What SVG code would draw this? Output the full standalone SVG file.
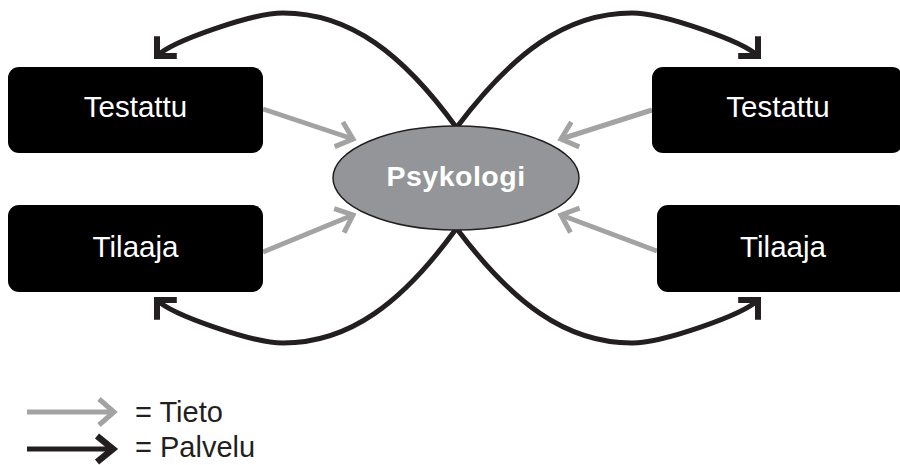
<svg xmlns="http://www.w3.org/2000/svg" width="900" height="465" viewBox="0 0 900 465">
  <style>
    .box { fill: #000000; }
    .lbl { font-family: "Liberation Sans", Arial, sans-serif; font-size: 29.5px; fill: #ffffff; text-anchor: middle; }
    .center { font-family: "Liberation Sans", Arial, sans-serif; font-size: 28.5px; font-weight: bold; letter-spacing: 0.5px; fill: #ffffff; text-anchor: middle; }
    .legend { font-family: "Liberation Sans", Arial, sans-serif; font-size: 29px; fill: #231f20; }
    .info { fill: none; stroke: #a3a3a3; stroke-width: 5; }
    .service { fill: none; stroke: #231f20; stroke-width: 5; }
  </style>
  <defs>
    <marker id="chevGray" markerUnits="userSpaceOnUse" viewBox="-30 -30 60 60" markerWidth="60" markerHeight="60" refX="0" refY="0" orient="auto">
      <path d="M-15,-13 L0,0 L-15,13" fill="none" stroke="#a3a3a3" stroke-width="5" stroke-linejoin="miter"/>
    </marker>
    <marker id="chevBlack" markerUnits="userSpaceOnUse" viewBox="-30 -30 60 60" markerWidth="60" markerHeight="60" refX="0" refY="0" orient="auto">
      <path d="M-14,-14 L0,0 L-14,14" fill="none" stroke="#231f20" stroke-width="6" stroke-linejoin="miter"/>
    </marker>
    <marker id="chevBlackL" markerUnits="userSpaceOnUse" viewBox="-30 -30 60 60" markerWidth="60" markerHeight="60" refX="0" refY="0" orient="auto">
      <path d="M-16,-13 L0,0 L-16,13" fill="none" stroke="#231f20" stroke-width="6.5" stroke-linejoin="miter"/>
    </marker>
  </defs>

  <g id="connectors">
    <!-- service curves -->
    <path class="service" d="M456,127 C403,54 350,13 283,13 C253,13 172,41 157,56" marker-end="url(#chevBlack)"/>
    <path class="service" d="M457,127 C512,54 565,13 632,13 C662,13 743,41 758,56" marker-end="url(#chevBlack)"/>
    <path class="service" d="M456,229 C403,302 350,343 283,343 C253,343 172,315 157,300" marker-end="url(#chevBlack)"/>
    <path class="service" d="M457,229 C512,302 565,343 632,343 C662,343 743,315 758,300" marker-end="url(#chevBlack)"/>
    <!-- information arrows -->
    <line class="info" x1="263" y1="109" x2="353" y2="139" marker-end="url(#chevGray)"/>
    <line class="info" x1="263" y1="252" x2="353" y2="215" marker-end="url(#chevGray)"/>
    <line class="info" x1="652" y1="110" x2="561" y2="139" marker-end="url(#chevGray)"/>
    <line class="info" x1="657" y1="251" x2="561" y2="215" marker-end="url(#chevGray)"/>
  </g>

  <g id="psykologi">
    <ellipse cx="456" cy="178" rx="123" ry="52" fill="#939598" stroke="#231f20" stroke-width="1.5"/>
    <text class="center" x="456" y="186">Psykologi</text>
  </g>

  <g id="testattu-left">
    <rect class="box" x="8" y="67" width="255" height="86" rx="11"/>
    <text class="lbl" x="135.5" y="117">Testattu</text>
  </g>
  <g id="tilaaja-left">
    <rect class="box" x="8" y="205" width="255" height="87" rx="11"/>
    <text class="lbl" x="135.5" y="257">Tilaaja</text>
  </g>
  <g id="testattu-right">
    <rect class="box" x="652" y="67" width="251" height="86" rx="11"/>
    <text class="lbl" x="778" y="117">Testattu</text>
  </g>
  <g id="tilaaja-right">
    <rect class="box" x="657" y="205" width="252" height="87" rx="11"/>
    <text class="lbl" x="783" y="257">Tilaaja</text>
  </g>

  <g id="legend">
    <line class="info" x1="27" y1="412" x2="114" y2="412" marker-end="url(#chevGray)"/>
    <text class="legend" x="135" y="422">= Tieto</text>
    <line class="service" x1="27" y1="449" x2="113" y2="449" stroke-width="6" marker-end="url(#chevBlackL)"/>
    <text class="legend" x="135" y="457">= Palvelu</text>
  </g>
</svg>
